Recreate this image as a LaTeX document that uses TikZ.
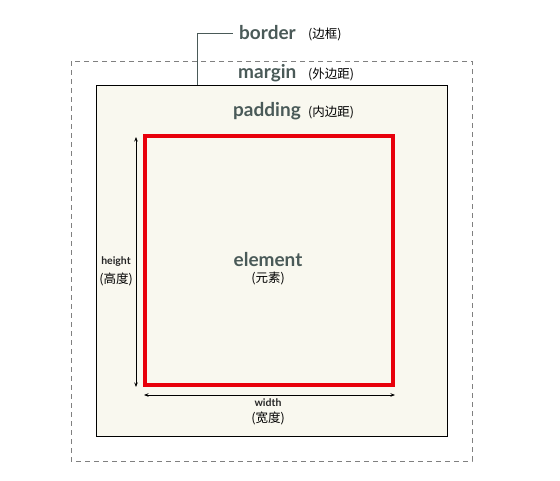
\documentclass[tikz,border=0pt]{standalone}
\usepackage{fontspec}
\usetikzlibrary{arrows.meta}
\setmainfont{Lato}
\newfontfamily\cjk{Noto Sans CJK SC}
\definecolor{lbl}{HTML}{4A5A58}
\definecolor{pad}{HTML}{F9F8EF}
\definecolor{elred}{HTML}{E8000B}
\begin{document}
\begin{tikzpicture}[x=1pt,y=-1pt,
  big/.style={font=\fontsize{19}{21}\selectfont\bfseries, text=lbl, inner sep=0pt},
  cn/.style={font=\cjk\fontsize{12.5}{14}\selectfont, text=black, inner sep=0pt},
  sm/.style={font=\fontsize{10.5}{12}\selectfont\bfseries, text=black!85, inner sep=0pt},
  dim/.style={line width=0.9pt, {Stealth[length=4.5pt,width=3.5pt]}-{Stealth[length=4.5pt,width=3.5pt]}}]
\useasboundingbox (0,0) rectangle (560,480);
\draw[gray, dashed, dash pattern=on 5pt off 4pt, line width=0.9pt] (71,61) rectangle (472,461);
\draw[black, fill=pad, line width=1pt] (96,85) rectangle (447,436);
\node[draw=elred, line width=3.2pt, minimum width=248pt, minimum height=249pt, inner sep=0pt] (el) at (269,260.5) {};
\coordinate (bt) at (197,85);
\coordinate (bc) at (197,33);
\node[big, anchor=west] (border) at (239,33) {border};
\node[cn, anchor=west] (borderc) at (308,34) {(边框)};
\draw[lbl, line width=1pt] (bt) -- (bc) -- (border.west -| 233,0);
\node[big, anchor=west] (margin) at (238,73) {margin};
\node[cn, anchor=west] (marginc) at (308,74) {(外边距)};
\node[big, anchor=west] (padding) at (233,111) {padding};
\node[cn, anchor=west] (paddingc) at (308,112) {(内边距)};
\node[big] (element) at (268,260) {element};
\node[cn] (elementc) at (268,278) {(元素)};
\coordinate (ht) at (136,137);
\coordinate (hb) at (136,387);
\draw[dim] (ht) -- (hb);
\node[sm] (height) at (116,262) {height};
\node[cn] (heightc) at (116,279) {(高度)};
\coordinate (wl) at (144,395);
\coordinate (wr) at (395,395);
\draw[dim] (wl) -- (wr);
\node[sm] (width) at (268,403) {width};
\node[cn] (widthc) at (268,418) {(宽度)};
\end{tikzpicture}
\end{document}
